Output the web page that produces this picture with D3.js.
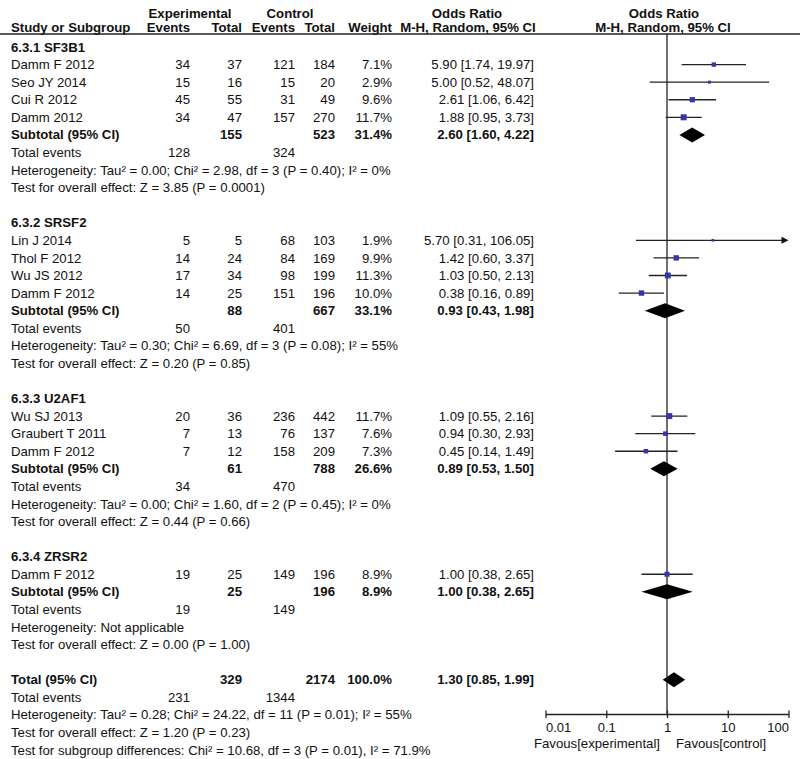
<!DOCTYPE html>
<html>
<head>
<meta charset="utf-8">
<script src="https://cdn.jsdelivr.net/npm/d3@7/dist/d3.min.js"></script>
<style>
  html, body { margin: 0; padding: 0; background: #fff; }
  svg { display: block; }
  text { font-family: "Liberation Sans", Arial, sans-serif; fill: #111; }
</style>
</head>
<body>
<svg id="chart" width="800" height="759"></svg>
<script>
// ---------------- DATA ----------------
const groupLabels = ["6.3.1 SF3B1", "6.3.2 SRSF2", "6.3.3 U2AF1", "6.3.4 ZRSR2"];

const studyNames  = ["Damm F 2012", "Seo JY 2014", "Cui R 2012", "Damm 2012",
                     "Lin J 2014", "Thol F 2012", "Wu JS 2012", "Damm F 2012",
                     "Wu SJ 2013", "Graubert T 2011", "Damm F 2012",
                     "Damm F 2012"];
const studyGroup  = [0, 0, 0, 0, 1, 1, 1, 1, 2, 2, 2, 3];
const expEvents   = [34, 15, 45, 34, 5, 14, 17, 14, 20, 7, 7, 19];
const expTotal    = [37, 16, 55, 47, 5, 24, 34, 25, 36, 13, 12, 25];
const ctrlEvents  = [121, 15, 31, 157, 68, 84, 98, 151, 236, 76, 158, 149];
const ctrlTotal   = [184, 20, 49, 270, 103, 169, 199, 196, 442, 137, 209, 196];
const weights     = [7.1, 2.9, 9.6, 11.7, 1.9, 9.9, 11.3, 10.0, 11.7, 7.6, 7.3, 8.9];
const oddsRatio   = [5.90, 5.00, 2.61, 1.88, 5.70, 1.42, 1.03, 0.38, 1.09, 0.94, 0.45, 1.00];
const ciLow       = [1.74, 0.52, 1.06, 0.95, 0.31, 0.60, 0.50, 0.16, 0.55, 0.30, 0.14, 0.38];
const ciHigh      = [19.97, 48.07, 6.42, 3.73, 106.05, 3.37, 2.13, 0.89, 2.16, 2.93, 1.49, 2.65];

const subExpTotal    = [155, 88, 61, 25];
const subCtrlTotal   = [523, 667, 788, 196];
const subWeight      = [31.4, 33.1, 26.6, 8.9];
const subOR          = [2.60, 0.93, 0.89, 1.00];
const subLow         = [1.60, 0.43, 0.53, 0.38];
const subHigh        = [4.22, 1.98, 1.50, 2.65];
const subExpEvents   = [128, 50, 34, 19];
const subCtrlEvents  = [324, 401, 470, 149];
const subHetText     = [
  "Heterogeneity: Tau² = 0.00; Chi² = 2.98, df = 3 (P = 0.40); I² = 0%",
  "Heterogeneity: Tau² = 0.30; Chi² = 6.69, df = 3 (P = 0.08); I² = 55%",
  "Heterogeneity: Tau² = 0.00; Chi² = 1.60, df = 2 (P = 0.45); I² = 0%",
  "Heterogeneity: Not applicable"
];
const subTestText    = [
  "Test for overall effect: Z = 3.85 (P = 0.0001)",
  "Test for overall effect: Z = 0.20 (P = 0.85)",
  "Test for overall effect: Z = 0.44 (P = 0.66)",
  "Test for overall effect: Z = 0.00 (P = 1.00)"
];

const totalExpTotal   = 329;
const totalCtrlTotal  = 2174;
const totalWeight     = 100.0;
const totalOR         = [1.30, 0.85, 1.99];
const totalExpEvents  = 231;
const totalCtrlEvents = 1344;
const totalTexts = [
  "Heterogeneity: Tau² = 0.28; Chi² = 24.22, df = 11 (P = 0.01); I² = 55%",
  "Test for overall effect: Z = 1.20 (P = 0.23)",
  "Test for subgroup differences: Chi² = 10.68, df = 3 (P = 0.01), I² = 71.9%"
];

const tickValues = [0.01, 0.1, 1, 10, 100];
const tickLabels = ["0.01", "0.1", "1", "10", "100"];
const favourLabels = ["Favous[experimental]", "Favous[control]"];

// ---------------- LAYOUT ----------------
const svg = d3.select("#chart");
const FS = 13.2;
const row0 = 47, rowStep = 17.575;
const rowY = i => row0 + i * rowStep;      // center of row i
const base = 4.6;                          // baseline offset from center

const colName = 11, colEE = 190, colET = 242, colCE = 295, colCT = 335, colW = 392, colOR = 534;

const x = d3.scaleLog().domain([0.01, 100]).range([545.5, 788.5]);
const axisY = 714;

function txt(xp, yc, s, anchor, bold, size) {
  svg.append("text")
    .attr("x", xp).attr("y", yc + base)
    .attr("text-anchor", anchor || "start")
    .attr("font-size", size || FS)
    .attr("font-weight", bold ? "bold" : "normal")
    .text(s);
}
const fmtCI = (o, l, h) => `${o.toFixed(2)} [${l.toFixed(2)}, ${h.toFixed(2)}]`;
const pct = v => v.toFixed(1) + "%";

// Header
const h1 = 13, h2 = 27.5;
txt(190, h1, "Experimental", "middle", true);
txt(290, h1, "Control", "middle", true);
txt(467, h1, "Odds Ratio", "middle", true);
txt(664, h1, "Odds Ratio", "middle", true);
txt(colName, h2, "Study or Subgroup", "start", true);
txt(colEE, h2, "Events", "end", true);
txt(colET, h2, "Total", "end", true);
txt(colCE, h2, "Events", "end", true);
txt(colCT, h2, "Total", "end", true);
txt(colW, h2, "Weight", "end", true);
txt(468, h2, "M-H, Random, 95% CI", "middle", true);
txt(663, h2, "M-H, Random, 95% CI", "middle", true);
svg.append("line").attr("x1", 0).attr("x2", 800).attr("y1", 34).attr("y2", 34)
  .attr("stroke", "#222").attr("stroke-width", 1.5);

// vertical line of no effect
svg.append("line").attr("x1", x(1)).attr("x2", x(1)).attr("y1", 34).attr("y2", axisY)
  .attr("stroke", "#222").attr("stroke-width", 1.3);

const plot = svg.append("g");

function diamond(yc, o, l, h) {
  const hh = 7.5;
  plot.append("path")
    .attr("d", `M${x(l)},${yc} L${x(o)},${yc - hh} L${x(h)},${yc} L${x(o)},${yc + hh} Z`)
    .attr("fill", "#000");
}

let r = 0;
groupLabels.forEach((g, gi) => {
  txt(colName, rowY(r), g, "start", true);
  r++;
  studyNames.forEach((name, si) => {
    if (studyGroup[si] !== gi) return;
    const yc = rowY(r);
    txt(colName, yc, name);
    txt(colEE, yc, String(expEvents[si]), "end");
    txt(colET, yc, String(expTotal[si]), "end");
    txt(colCE, yc, String(ctrlEvents[si]), "end");
    txt(colCT, yc, String(ctrlTotal[si]), "end");
    txt(colW, yc, pct(weights[si]), "end");
    txt(colOR, yc, fmtCI(oddsRatio[si], ciLow[si], ciHigh[si]), "end");
    // CI line
    const hiClamp = Math.min(ciHigh[si], 100);
    const x2 = x(hiClamp);
    plot.append("line").attr("x1", x(Math.max(ciLow[si], 0.01))).attr("x2", ciHigh[si] > 100 ? x2 - 5 : x2)
      .attr("y1", yc).attr("y2", yc).attr("stroke", "#222").attr("stroke-width", 1.3);
    if (ciHigh[si] > 100) {
      plot.append("path").attr("d", `M${x2},${yc} L${x2 - 7},${yc - 3.5} L${x2 - 7},${yc + 3.5} Z`)
        .attr("fill", "#111");
    }
    const s = 2 + weights[si] * 0.34;
    plot.append("rect").attr("x", x(oddsRatio[si]) - s / 2).attr("y", yc - s / 2)
      .attr("width", s).attr("height", s).attr("fill", "#3636a6");
    r++;
  });
  const ys = rowY(r);
  txt(colName, ys, "Subtotal (95% CI)", "start", true);
  txt(colET, ys, String(subExpTotal[gi]), "end", true);
  txt(colCT, ys, String(subCtrlTotal[gi]), "end", true);
  txt(colW, ys, pct(subWeight[gi]), "end", true);
  txt(colOR, ys, fmtCI(subOR[gi], subLow[gi], subHigh[gi]), "end", true);
  diamond(ys, subOR[gi], subLow[gi], subHigh[gi]);
  r++;
  txt(colName, rowY(r), "Total events");
  txt(colEE, rowY(r), String(subExpEvents[gi]), "end");
  txt(colCE, rowY(r), String(subCtrlEvents[gi]), "end");
  r++;
  txt(colName, rowY(r), subHetText[gi]); r++;
  txt(colName, rowY(r), subTestText[gi]); r++;
  r++; // blank
});

const yt = rowY(r);
txt(colName, yt, "Total (95% CI)", "start", true);
txt(colET, yt, String(totalExpTotal), "end", true);
txt(colCT, yt, String(totalCtrlTotal), "end", true);
txt(colW, yt, pct(totalWeight), "end", true);
txt(colOR, yt, fmtCI(totalOR[0], totalOR[1], totalOR[2]), "end", true);
diamond(yt, totalOR[0], totalOR[1], totalOR[2]);
r++;
txt(colName, rowY(r), "Total events");
txt(colEE, rowY(r), String(totalExpEvents), "end");
txt(colCE, rowY(r), String(totalCtrlEvents), "end");
r++;
totalTexts.forEach(t => { txt(colName, rowY(r), t); r++; });

// Axis
const axis = d3.axisBottom(x).tickValues(tickValues)
  .tickFormat((d, i) => tickLabels[i]).tickSizeInner(4).tickSizeOuter(0);
const ag = svg.append("g").attr("transform", `translate(0,${axisY})`).call(axis);
ag.select(".domain").attr("stroke", "#222").attr("stroke-width", 1.3);
ag.selectAll(".tick line").attr("y1", -3.5).attr("y2", 4).attr("stroke", "#222").attr("stroke-width", 1.3);
ag.selectAll(".tick text")
  .attr("font-family", '"Liberation Sans", Arial, sans-serif')
  .attr("font-size", 13).attr("fill", "#111").attr("y", 9).attr("dy", "0.71em")
  .attr("text-anchor", (d, i) => i === 0 ? "start" : (i === tickValues.length - 1 ? "end" : "middle"));

txt(x(1) - 7, 743, favourLabels[0], "end", false, 13.2);
txt(x(1) + 9, 743, favourLabels[1], "start", false, 13.2);
</script>
</body>
</html>
